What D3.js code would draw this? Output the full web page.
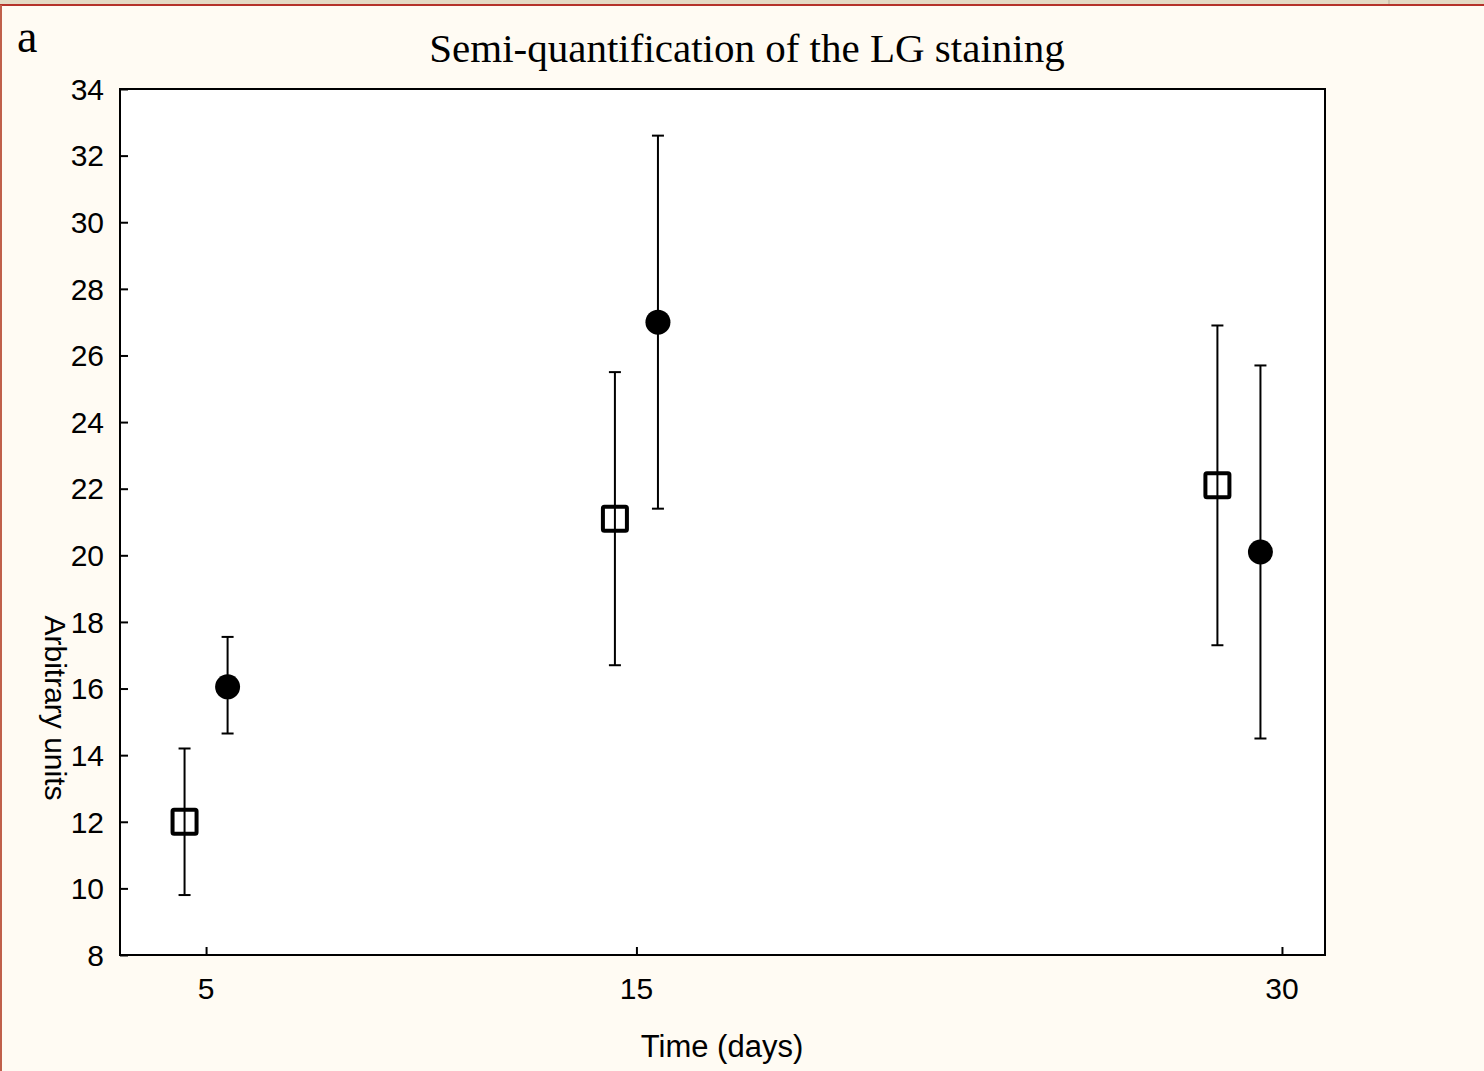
<!DOCTYPE html>
<html>
<head>
<meta charset="utf-8">
<script src="https://cdn.jsdelivr.net/npm/d3@7"></script>
<style>
  html, body { margin: 0; padding: 0; background: #fffbf3; }
  svg { display: block; }
</style>
</head>
<body>
<svg id="chart" width="1484" height="1071"></svg>
<script>
// Positions (days) where each group is plotted, slightly apart around the sampling day
const squareDays = [4.5, 14.5, 28.5];
const circleDays = [5.5, 15.5, 29.5];

// Open-square group: mean, upper and lower bound
const squareMean  = [12.0, 21.1, 22.1];
const squareUpper = [14.2, 25.5, 26.9];
const squareLower = [9.8, 16.7, 17.3];

// Filled-circle group: mean, upper and lower bound
const circleMean  = [16.05, 27.0, 20.1];
const circleUpper = [17.55, 32.6, 25.7];
const circleLower = [14.65, 21.4, 14.5];

const yTicks = [8, 10, 12, 14, 16, 18, 20, 22, 24, 26, 28, 30, 32, 34];
const xTicks = [5, 15, 30];

const svg = d3.select("#chart");
const W = 1484, H = 1071;
const plot = { left: 120, top: 89, right: 1325, bottom: 955 };
const sans = "Liberation Sans, Arial, sans-serif";
const serif = "Liberation Serif, Times New Roman, serif";

// page frame
svg.append("rect").attr("x", 0).attr("y", 0).attr("width", W).attr("height", 5).attr("fill", "#e4dac4");
svg.append("line").attr("x1", 1389).attr("x2", 1389).attr("y1", 0).attr("y2", 5).attr("stroke", "#b8ad98").attr("stroke-width", 1);
svg.append("line").attr("x1", 0).attr("x2", W).attr("y1", 5).attr("y2", 5).attr("stroke", "#b5322a").attr("stroke-width", 2);
svg.append("line").attr("x1", 1).attr("x2", 1).attr("y1", 5).attr("y2", H).attr("stroke", "#c0604a").attr("stroke-width", 2);

const x = d3.scaleLinear().domain([3, 31]).range([plot.left, plot.right]);
const y = d3.scaleLinear().domain([8, 34]).range([plot.bottom, plot.top]);

// plot background
svg.append("rect")
  .attr("x", plot.left).attr("y", plot.top)
  .attr("width", plot.right - plot.left).attr("height", plot.bottom - plot.top)
  .attr("fill", "#ffffff");

// axes with inward ticks
const yAxis = svg.append("g")
  .attr("transform", `translate(${plot.left},0)`)
  .call(d3.axisRight(y).tickValues(yTicks).tickSize(8).tickFormat(""));
yAxis.selectAll(".tick line").attr("stroke", "#000").attr("stroke-width", 2);
yAxis.select(".domain").remove();

const xAxis = svg.append("g")
  .attr("transform", `translate(0,${plot.bottom})`)
  .call(d3.axisTop(x).tickValues(xTicks).tickSize(8).tickFormat(""));
xAxis.selectAll(".tick line").attr("stroke", "#000").attr("stroke-width", 2);
xAxis.select(".domain").remove();

// tick labels
svg.append("g").selectAll("text").data(yTicks).join("text")
  .attr("x", 104).attr("y", d => y(d))
  .attr("dy", "0.36em")
  .attr("text-anchor", "end")
  .attr("font-family", sans)
  .attr("font-size", 30)
  .attr("fill", "#000")
  .text(d => d);

svg.append("g").selectAll("text").data(xTicks).join("text")
  .attr("x", d => x(d)).attr("y", 988)
  .attr("dy", "0.36em")
  .attr("text-anchor", "middle")
  .attr("font-family", sans)
  .attr("font-size", 30)
  .attr("fill", "#000")
  .text(d => d);

// frame of the plot
svg.append("rect")
  .attr("x", plot.left).attr("y", plot.top)
  .attr("width", plot.right - plot.left).attr("height", plot.bottom - plot.top)
  .attr("fill", "none").attr("stroke", "#000").attr("stroke-width", 2);

// error bars
function errorBars(xs, upper, lower) {
  const g = svg.append("g").attr("stroke", "#000").attr("stroke-width", 2);
  xs.forEach((d, i) => {
    const cx = x(d);
    g.append("line").attr("x1", cx).attr("x2", cx).attr("y1", y(upper[i])).attr("y2", y(lower[i]));
    g.append("line").attr("x1", cx - 6).attr("x2", cx + 6).attr("y1", y(upper[i])).attr("y2", y(upper[i]));
    g.append("line").attr("x1", cx - 6).attr("x2", cx + 6).attr("y1", y(lower[i])).attr("y2", y(lower[i]));
  });
}

errorBars(squareDays, squareUpper, squareLower);
errorBars(circleDays, circleUpper, circleLower);

// open squares (error line shows through)
svg.append("g").selectAll("rect").data(squareMean).join("rect")
  .attr("x", (d, i) => x(squareDays[i]) - 12)
  .attr("y", d => y(d) - 12)
  .attr("width", 24).attr("height", 24)
  .attr("rx", 1.5)
  .attr("fill", "none")
  .attr("stroke", "#000").attr("stroke-width", 4);

// filled circles
svg.append("g").selectAll("circle").data(circleMean).join("circle")
  .attr("cx", (d, i) => x(circleDays[i]))
  .attr("cy", d => y(d))
  .attr("r", 12.5)
  .attr("fill", "#000");

// titles
svg.append("text")
  .attr("x", 747).attr("y", 62)
  .attr("text-anchor", "middle")
  .attr("font-family", serif)
  .attr("font-size", 41)
  .attr("fill", "#000")
  .text("Semi-quantification of the LG staining");

svg.append("text")
  .attr("x", 17).attr("y", 52)
  .attr("font-family", serif)
  .attr("font-size", 46)
  .attr("fill", "#000")
  .text("a");

svg.append("text")
  .attr("transform", "translate(56,708) rotate(90)")
  .attr("text-anchor", "middle")
  .attr("dy", "0.36em")
  .attr("font-family", sans)
  .attr("font-size", 30)
  .attr("fill", "#000")
  .text("Arbitrary units");

svg.append("text")
  .attr("x", 722).attr("y", 1046)
  .attr("dy", "0.36em")
  .attr("text-anchor", "middle")
  .attr("font-family", sans)
  .attr("font-size", 31)
  .attr("fill", "#000")
  .text("Time (days)");
</script>
</body>
</html>
